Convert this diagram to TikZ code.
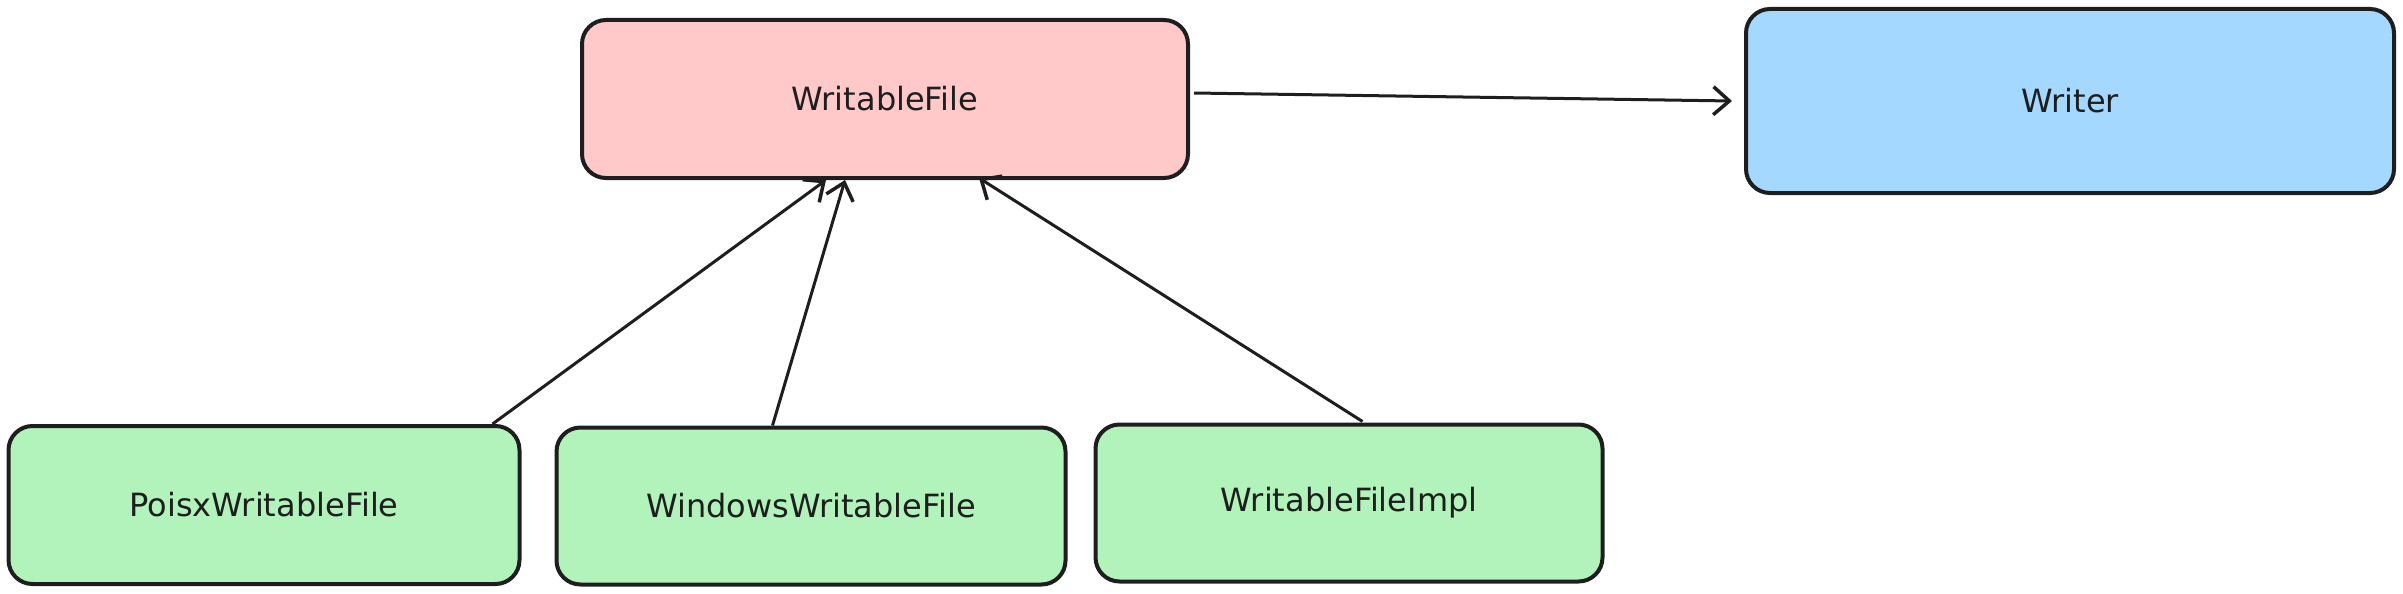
\documentclass[tikz,border=0pt]{standalone}
\usepackage{fontspec}
\setmainfont{DejaVu Sans}
\usetikzlibrary{arrows.meta,calc}
\definecolor{strokec}{HTML}{1E1E1E}
\definecolor{pinkf}{HTML}{FFC9C9}
\definecolor{bluef}{HTML}{A5D8FF}
\definecolor{greenf}{HTML}{B2F2BB}
\tikzset{
  box/.style={draw=strokec, line width=4pt, rounded corners=24pt, rectangle,
    font=\fontsize{32}{38}\selectfont, text=strokec, inner sep=0pt},
  conn/.style={draw=strokec, line width=3pt, -{Straight Barb[length=16pt,width=28pt,line width=3.5pt]}}
}
\begin{document}
\begin{tikzpicture}[x=1pt,y=-1pt]
\useasboundingbox (0,0) rectangle (2403,594);
\node[box, fill=pinkf, minimum width=606pt, minimum height=158pt] (wf) at (885,99) {WritableFile};
\node[box, fill=bluef, minimum width=648pt, minimum height=184pt] (wr) at (2070,101) {Writer};
\node[box, fill=greenf, minimum width=511pt, minimum height=158pt] (pf) at (264,505) {PoisxWritableFile};
\node[box, fill=greenf, minimum width=509pt, minimum height=157pt] (wn) at (811,506) {WindowsWritableFile};
\node[box, fill=greenf, minimum width=507pt, minimum height=157pt] (im) at (1349,503) {WritableFileImpl};
\draw[conn] ($(wf.east)+(4,-6)$) -- ($(wr.west)+(-12,0)$);
\draw[conn] ($(pf.north west)+(486,0)$) -- ($(wf.south west)+(246,0)$);
\draw[conn] ($(wn.north west)+(218,0)$) -- ($(wf.south west)+(265,0)$);
\draw[conn] ($(im.north west)+(269,-1)$) -- ($(wf.south west)+(399,-2)$);
\end{tikzpicture}
\end{document}
